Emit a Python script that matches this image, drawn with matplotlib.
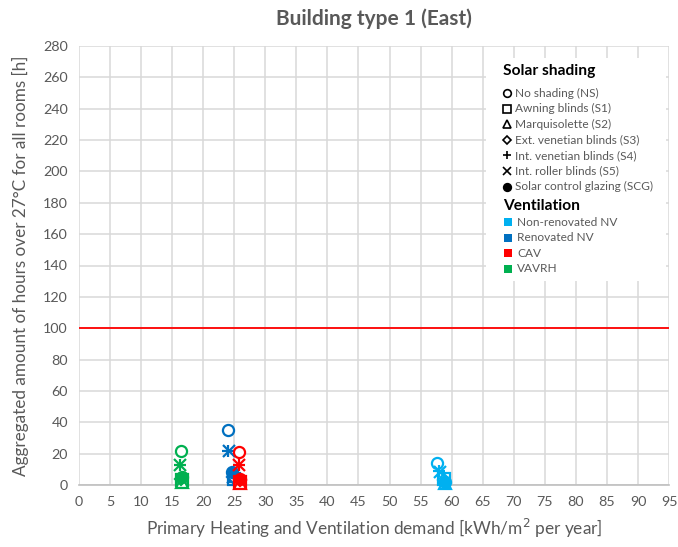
import matplotlib
matplotlib.use("Agg")
import matplotlib.pyplot as plt
from matplotlib.patches import Rectangle

plt.rcParams['font.family'] = ['Lato', 'DejaVu Sans']

# Solar shading variants (marker per variant)
shading_labels = ["No shading (NS)", "Awning blinds (S1)", "Marquisolette (S2)",
                  "Ext. venetian blinds (S3)", "Int. venetian blinds (S4)",
                  "Int. roller blinds (S5)", "Solar control glazing (SCG)"]
shading_markers = ["o", "s", "^", "D", "+", "x", "o"]
shading_filled = [False, False, False, False, False, False, True]

# Ventilation systems
vent_labels = ["Non-renovated NV", "Renovated NV", "CAV", "VAVRH"]
vent_colors = ["#00B0F0", "#0070C0", "#FF0000", "#00B050"]

# Primary heating and ventilation demand [kWh/m2 per year], order as shading_labels
demand_nonren_nv = [57.7, 58.8, 59.0, 58.7, 58.0, 58.2, 58.9]
demand_ren_nv = [24.0, 25.0, 25.0, 24.8, 24.0, 24.1, 24.7]
demand_cav = [25.8, 26.0, 26.0, 25.9, 25.8, 25.8, 25.9]
demand_vavrh = [16.4, 16.6, 16.6, 16.5, 16.3, 16.3, 16.6]

# Aggregated hours over 27 °C for all rooms [h]
hours_nonren_nv = [14, 4, 1, 3, 9, 8, 2]
hours_ren_nv = [35, 4, 6, 5, 22, 22, 8]
hours_cav = [21, 2, 1, 3, 13, 13, 4]
hours_vavrh = [22, 3, 2, 4, 13, 13, 5]

limit_hours = 100

demand = [demand_nonren_nv, demand_ren_nv, demand_cav, demand_vavrh]
hours = [hours_nonren_nv, hours_ren_nv, hours_cav, hours_vavrh]

grey = "#595959"

fig = plt.figure(figsize=(6.78, 5.47), dpi=100)
ax = fig.add_axes([79 / 678, 1 - 485 / 547, 590 / 678, 439 / 547])

ax.set_xlim(0, 95)
ax.set_ylim(0, 280)
ax.set_xticks(range(0, 96, 5))
ax.set_yticks(range(0, 281, 20))
ax.grid(True, color="#D9D9D9", linewidth=1.1)
ax.set_axisbelow(True)
for s in ["top", "right", "left"]:
    ax.spines[s].set_visible(False)
ax.spines["bottom"].set_color("#BFBFBF")
ax.spines["bottom"].set_linewidth(1.2)
ax.tick_params(length=0, labelsize=10.3, labelcolor=grey, pad=8)

ax.axhline(limit_hours, color="#FF0000", linewidth=1.3, zorder=2)

for vi, color in enumerate(vent_colors):
    for si, mk in enumerate(shading_markers):
        size = 8 if mk not in ("+", "x") else 9
        if mk == "D":
            size = 6.5
        ax.plot(demand[vi][si], hours[vi][si], linestyle="none", marker=mk,
                markersize=size, markeredgewidth=1.6, markeredgecolor=color,
                markerfacecolor=color if shading_filled[si] else "white" if mk not in ("+", "x") else "none",
                zorder=3, clip_on=False)

ax.set_title("Building type 1 (East)", fontsize=15, fontweight="bold", color=grey, pad=15)
ax.set_xlabel("Primary Heating and Ventilation demand [kWh/m$^2$ per year]",
              fontsize=12.4, color=grey, labelpad=6)
ax.set_ylabel("Aggregated amount of hours over 27°C for all rooms [h]",
              fontsize=12.3, color=grey, labelpad=10)

# Legend panel drawn in axes coordinates
def fx(px):
    return (px - 79) / 590

def fy(py):
    return 1 - (py - 46) / 439

ax.add_patch(Rectangle((fx(486), fy(281)), fx(666) - fx(486), fy(58) - fy(281),
                       transform=ax.transAxes, facecolor="white", edgecolor="none", zorder=4))

ax.text(fx(503), fy(71), "Solar shading", transform=ax.transAxes, fontsize=11.2,
        fontweight="bold", color="black", va="center", ha="left", zorder=5)
row = 15.6
for i, lab in enumerate(shading_labels):
    y = 93 + i * row
    mk = shading_markers[i]
    ms = 5.5 if mk != "D" else 4.5
    ax.plot([fx(507)], [fy(y)], transform=ax.transAxes, marker=mk, markersize=ms,
            markeredgewidth=1.2, markeredgecolor="black",
            markerfacecolor="black" if shading_filled[i] else "white",
            linestyle="none", zorder=5, clip_on=False)
    ax.text(fx(515), fy(y), lab, transform=ax.transAxes, fontsize=8.6, color=grey,
            va="center", ha="left", zorder=5)

ax.text(fx(503), fy(206), "Ventilation", transform=ax.transAxes, fontsize=11.2,
        fontweight="bold", color="black", va="center", ha="left", zorder=5)
for i, (lab, c) in enumerate(zip(vent_labels, vent_colors)):
    y = 222 + i * row
    ax.add_patch(Rectangle((fx(504), fy(y + 4)), fx(512) - fx(504), fy(y - 4) - fy(y + 4),
                           transform=ax.transAxes, facecolor=c, edgecolor="none", zorder=5))
    ax.text(fx(517), fy(y), lab, transform=ax.transAxes, fontsize=8.6, color=grey,
            va="center", ha="left", zorder=5)

fig.savefig("out.png", dpi=100)
